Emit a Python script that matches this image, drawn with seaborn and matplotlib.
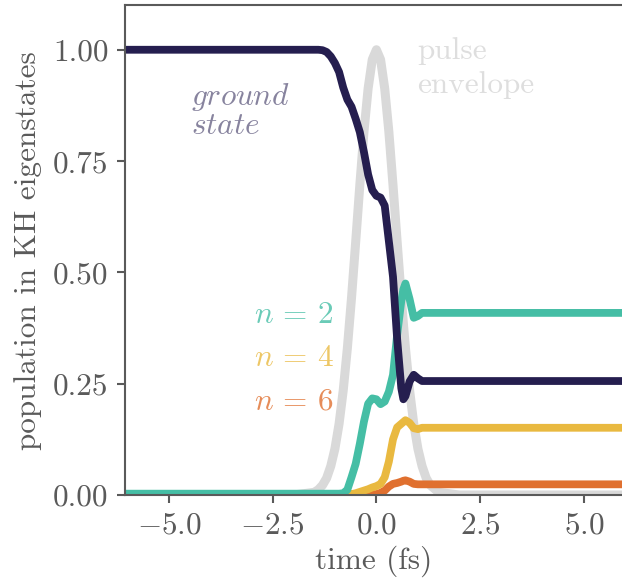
import numpy as np
import pandas as pd
import matplotlib
matplotlib.use('Agg')
import matplotlib.pyplot as plt
import seaborn as sns

# time grid (fs) shared by all curves
time = [-6.1, -2.0, -1.5, -1.4, -1.3, -1.2, -1.1, -1.0, -0.9, -0.8, -0.7, -0.6,
        -0.5, -0.4, -0.3, -0.2, -0.1, 0.0, 0.1, 0.2, 0.3, 0.4, 0.5, 0.6, 0.65,
        0.7, 0.8, 0.9, 1.0, 1.1, 1.2, 1.3, 1.5, 2.0, 6.1]

ground = [1.0, 1.0, 1.0, 1.0, 0.999, 0.995, 0.985, 0.97, 0.95, 0.915, 0.888, 0.872,
          0.845, 0.815, 0.77, 0.72, 0.685, 0.672, 0.668, 0.65, 0.57, 0.49, 0.35, 0.24, 0.215,
          0.222, 0.255, 0.27, 0.262, 0.256, 0.256, 0.256, 0.256, 0.256, 0.256]

n2 = [0.003, 0.003, 0.003, 0.003, 0.003, 0.003, 0.003, 0.003, 0.003, 0.004, 0.012, 0.04,
      0.07, 0.115, 0.165, 0.205, 0.217, 0.215, 0.204, 0.21, 0.232, 0.27, 0.36, 0.436, 0.462,
      0.475, 0.44, 0.398, 0.402, 0.409, 0.409, 0.409, 0.409, 0.409, 0.409]

n4 = [0.002, 0.002, 0.002, 0.002, 0.002, 0.002, 0.002, 0.002, 0.002, 0.002, 0.002, 0.002,
      0.004, 0.007, 0.01, 0.013, 0.017, 0.02, 0.025, 0.04, 0.075, 0.125, 0.152, 0.16, 0.164,
      0.168, 0.162, 0.15, 0.148, 0.151, 0.151, 0.151, 0.151, 0.151, 0.151]

n6 = [0.002, 0.002, 0.002, 0.002, 0.002, 0.002, 0.002, 0.002, 0.002, 0.002, 0.002, 0.002,
      0.002, 0.002, 0.002, 0.002, 0.002, 0.002, 0.005, 0.01, 0.019, 0.025, 0.027, 0.03, 0.032,
      0.033, 0.03, 0.025, 0.024, 0.024, 0.024, 0.024, 0.024, 0.024, 0.024]

pulse = [0.0, 0.0, 0.006, 0.012, 0.022, 0.038, 0.065, 0.104, 0.16, 0.235, 0.33, 0.443,
         0.568, 0.696, 0.816, 0.913, 0.978, 1.0, 0.978, 0.913, 0.816, 0.696, 0.568, 0.443, 0.385,
         0.33, 0.235, 0.16, 0.104, 0.065, 0.038, 0.022, 0.006, 0.0, 0.0]

c_ground = '#251e4f'
c_n2 = '#45bea5'
c_n4 = '#e9b940'
c_n6 = '#e0702f'
c_pulse = '#d9d9d9'
c_axis = '#5a5a5a'
fs = 22.5

sns.set_theme(style='ticks')
plt.rcParams['font.family'] = 'serif'
plt.rcParams['font.serif'] = ['cmr10']
plt.rcParams['mathtext.fontset'] = 'cm'
plt.rcParams['axes.formatter.use_mathtext'] = True
plt.rcParams['lines.solid_joinstyle'] = 'round'
plt.rcParams['lines.solid_capstyle'] = 'round'

df = pd.DataFrame({'time': time, 'ground': ground, 'n2': n2, 'n4': n4,
                   'n6': n6, 'pulse': pulse})

fig, ax = plt.subplots(figsize=(6.22, 5.81), dpi=100)
fig.subplots_adjust(left=0.201, right=1.0, top=0.991, bottom=0.148)

sns.lineplot(data=df, x='time', y='pulse', color=c_pulse, linewidth=6.5, ax=ax)
sns.lineplot(data=df, x='time', y='n6', color=c_n6, linewidth=5.6, ax=ax)
sns.lineplot(data=df, x='time', y='n4', color=c_n4, linewidth=5.6, ax=ax)
sns.lineplot(data=df, x='time', y='n2', color=c_n2, linewidth=5.6, ax=ax)
sns.lineplot(data=df, x='time', y='ground', color=c_ground, linewidth=5.6, ax=ax)

ax.set_xlim(-6.06, 5.92)
ax.set_ylim(0.0, 1.1)
ax.set_xticks([-5.0, -2.5, 0.0, 2.5, 5.0])
ax.set_yticks([0.0, 0.25, 0.5, 0.75, 1.0])
ax.set_xticklabels(['$-5.0$', '$-2.5$', '$0.0$', '$2.5$', '$5.0$'])
ax.set_yticklabels(['0.00', '0.25', '0.50', '0.75', '1.00'])

ax.set_xlabel('time (fs)', fontsize=fs, color=c_axis, labelpad=4)
ax.set_ylabel('population in KH eigenstates', fontsize=fs, color=c_axis, labelpad=8)
ax.tick_params(axis='both', labelsize=fs, colors=c_axis, length=6, width=1.5, pad=6)

ax.spines['right'].set_visible(False)
for side in ['left', 'top', 'bottom']:
    ax.spines[side].set_color(c_axis)
    ax.spines[side].set_linewidth(1.5)

ax.text(-4.48, 0.876, r'$\mathit{ground}$', fontsize=fs, color=c_ground, alpha=0.55,
        ha='left', va='baseline')
ax.text(-4.48, 0.811, r'$\mathit{state}$', fontsize=fs, color=c_ground, alpha=0.55,
        ha='left', va='baseline')
ax.text(0.99, 0.980, 'pulse', fontsize=fs, color='#dedede', ha='left', va='baseline')
ax.text(0.99, 0.903, 'envelope', fontsize=fs, color='#dedede', ha='left', va='baseline')
ax.text(-2.95, 0.387, r'$n\,=\,2$', fontsize=fs, color=c_n2, alpha=0.8, ha='left', va='baseline')
ax.text(-2.95, 0.290, r'$n\,=\,4$', fontsize=fs, color=c_n4, alpha=0.8, ha='left', va='baseline')
ax.text(-2.95, 0.191, r'$n\,=\,6$', fontsize=fs, color=c_n6, alpha=0.8, ha='left', va='baseline')

fig.savefig('out.png', dpi=100)
